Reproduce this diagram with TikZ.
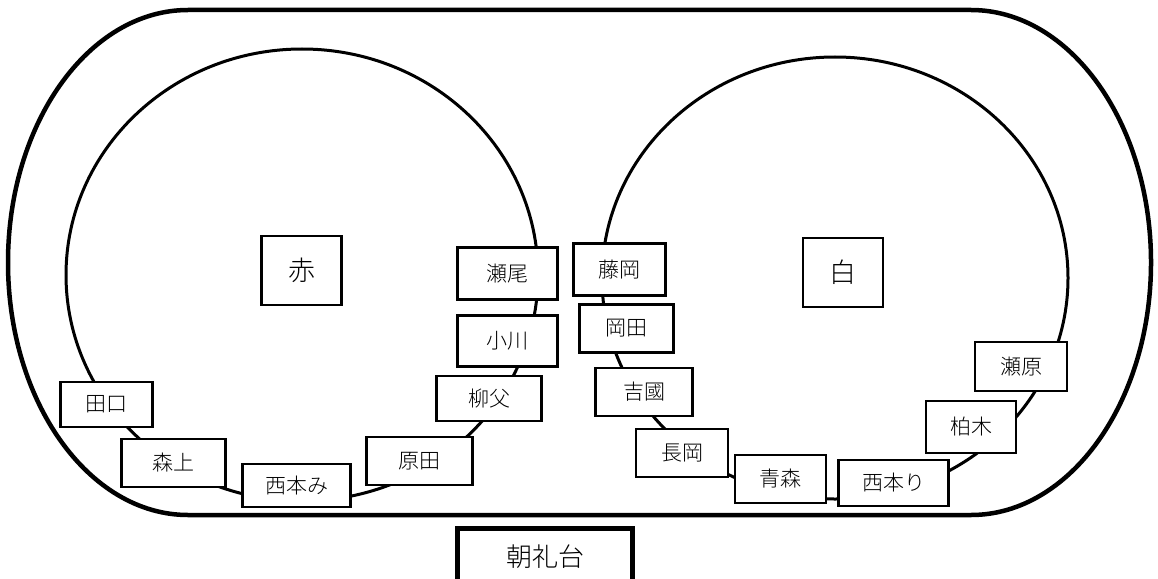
\documentclass[tikz,border=0pt]{standalone}
\usepackage{fontspec}
\setmainfont{Noto Sans CJK JP}[UprightFont=* Light]
\usepackage{tikz}
\usetikzlibrary{positioning}

\begin{document}
\begin{tikzpicture}[x=1pt, y=-1pt, node distance=10pt]
    % Styles
    \tikzstyle{track} = [line width=4.5pt]
    \tikzstyle{lane} = [line width=3pt]
    \tikzstyle{member} = [rectangle, draw, line width=2.8pt, fill=white, inner sep=0pt, minimum width=95pt, minimum height=48pt, font=\fontsize{21}{24}\selectfont]
    \tikzstyle{team} = [rectangle, draw, line width=2.8pt, fill=white, minimum width=80pt, minimum height=69pt, font=\fontsize{27}{30}\selectfont]
    \tikzstyle{stage} = [rectangle, draw, line width=5pt, fill=white, minimum width=175pt, minimum height=58pt, font=\fontsize{26}{30}\selectfont]

    \useasboundingbox (0,0) rectangle (1158,578);

    % Track
    \draw[track] (188,10) -- (971,10) .. controls (1070,10) and (1151,123) .. (1151,262.5)
        .. controls (1151,402) and (1070,515) .. (971,515) -- (188,515)
        .. controls (89,515) and (8,402) .. (8,262.5)
        .. controls (8,123) and (89,10) .. (188,10) -- cycle;

    % Circles
    \coordinate (redc) at (302,275);
    \coordinate (whitec) at (835,278);
    \draw[lane] (redc) ellipse [x radius=236, y radius=226];
    \draw[lane] (whitec) ellipse [x radius=233, y radius=221];

    % Teams
    \node [team] (aka) at (301.5,270.5) {赤};
    \node [team] (shiro) at (843,272.5) {白};

    % Red
    \node [member, minimum width=100pt, minimum height=52pt] (seo) at (507.5,273.5) {瀬尾};
    \node [member, minimum width=100pt, minimum height=51pt, below=13pt of seo] (ogawa) {小川};
    \node [member, minimum width=105pt, minimum height=45pt] (yanabu) at (489,398.5) {柳父};
    \node [member, minimum width=106pt] (harada) at (419.5,461) {原田};
    \node [member, minimum width=108pt, minimum height=43pt] (nishimotomi) at (296.5,485.5) {西本み};
    \node [member, minimum width=104pt] (moriue) at (173.5,463) {森上};
    \node [member, minimum width=92pt, minimum height=45pt] (taguchi) at (106.5,404.5) {田口};

    % White
    \node [member, minimum width=92pt, minimum height=52pt] (fujioka) at (619.5,269.5) {藤岡};
    \node [member, minimum width=94pt, below=6pt of fujioka, xshift=7pt] (okada) {岡田};
    \node [member, minimum width=97pt] (yoshikuni) at (644,392) {吉國};
    \node [member, minimum width=92pt] (nagaoka) at (682,453) {長岡};
    \node [member, minimum width=91pt] (aomori) at (780.5,479) {青森};
    \node [member, minimum width=110pt, minimum height=46pt] (nishimotori) at (893.5,483) {西本り};
    \node [member, minimum width=90pt, minimum height=52pt] (kashiwagi) at (971,427) {柏木};
    \node [member, minimum width=92pt, minimum height=49pt] (sehara) at (1021,366.5) {瀬原};

    % Stage
    \node [stage] (chorei) at (545,557) {朝礼台};

\end{tikzpicture}
\end{document}
